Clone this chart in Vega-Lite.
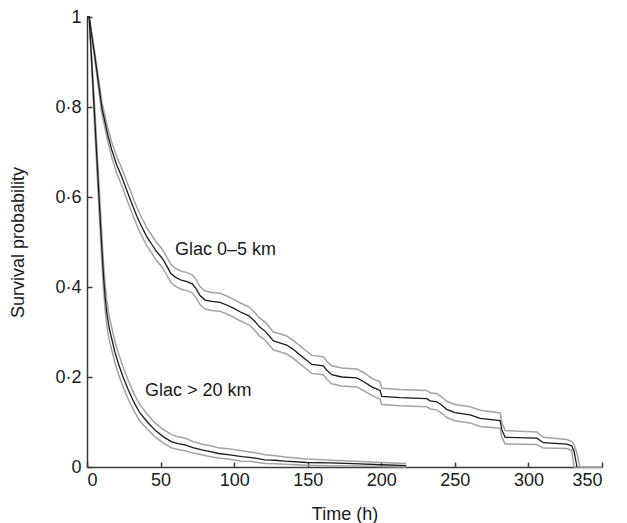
{
  "$schema": "https://vega.github.io/schema/vega-lite/v6.json",
  "width": 515,
  "height": 450,
  "autosize": "none",
  "padding": {"left": 87, "top": 17, "right": 25, "bottom": 56},
  "background": "white",
  "config": {
    "view": {"stroke": null},
    "font": "Liberation Sans",
    "axis": {
      "grid": false,
      "domainColor": "#3a3a3a",
      "domainWidth": 1.5,
      "tickColor": "#3a3a3a",
      "tickWidth": 1.5,
      "tickSize": -5,
      "labelFont": "Liberation Sans",
      "labelFontSize": 18,
      "labelColor": "#1a1a1a",
      "titleFont": "Liberation Sans",
      "titleFontSize": 18,
      "titleFontWeight": "normal",
      "titleColor": "#1a1a1a"
    }
  },
  "datasets": {
    "curves": [
      {"group": "Glac 0–5 km", "t": 0, "est": 1, "lo": 1, "hi": 1},
      {"group": "Glac 0–5 km", "t": 1.5, "est": 1, "lo": 1, "hi": 1},
      {"group": "Glac 0–5 km", "t": 3, "est": 0.965, "lo": 0.96, "hi": 0.97},
      {"group": "Glac 0–5 km", "t": 5, "est": 0.92, "lo": 0.912, "hi": 0.928},
      {"group": "Glac 0–5 km", "t": 7, "est": 0.873, "lo": 0.863, "hi": 0.883},
      {"group": "Glac 0–5 km", "t": 9, "est": 0.825, "lo": 0.813, "hi": 0.837},
      {"group": "Glac 0–5 km", "t": 10, "est": 0.8, "lo": 0.787, "hi": 0.813},
      {"group": "Glac 0–5 km", "t": 12, "est": 0.77, "lo": 0.756, "hi": 0.784},
      {"group": "Glac 0–5 km", "t": 14, "est": 0.74, "lo": 0.725, "hi": 0.755},
      {"group": "Glac 0–5 km", "t": 16.8, "est": 0.705, "lo": 0.688, "hi": 0.722},
      {"group": "Glac 0–5 km", "t": 20, "est": 0.673, "lo": 0.655, "hi": 0.691},
      {"group": "Glac 0–5 km", "t": 23.6, "est": 0.645, "lo": 0.626, "hi": 0.664},
      {"group": "Glac 0–5 km", "t": 27, "est": 0.615, "lo": 0.595, "hi": 0.635},
      {"group": "Glac 0–5 km", "t": 30.4, "est": 0.586, "lo": 0.566, "hi": 0.606},
      {"group": "Glac 0–5 km", "t": 34, "est": 0.556, "lo": 0.536, "hi": 0.576},
      {"group": "Glac 0–5 km", "t": 37, "est": 0.535, "lo": 0.515, "hi": 0.555},
      {"group": "Glac 0–5 km", "t": 40.6, "est": 0.512, "lo": 0.492, "hi": 0.532},
      {"group": "Glac 0–5 km", "t": 44, "est": 0.495, "lo": 0.475, "hi": 0.515},
      {"group": "Glac 0–5 km", "t": 47, "est": 0.48, "lo": 0.46, "hi": 0.5},
      {"group": "Glac 0–5 km", "t": 50.8, "est": 0.465, "lo": 0.445, "hi": 0.485},
      {"group": "Glac 0–5 km", "t": 54, "est": 0.448, "lo": 0.428, "hi": 0.468},
      {"group": "Glac 0–5 km", "t": 57, "est": 0.43, "lo": 0.41, "hi": 0.45},
      {"group": "Glac 0–5 km", "t": 60, "est": 0.422, "lo": 0.402, "hi": 0.442},
      {"group": "Glac 0–5 km", "t": 64, "est": 0.415, "lo": 0.395, "hi": 0.435},
      {"group": "Glac 0–5 km", "t": 68, "est": 0.412, "lo": 0.392, "hi": 0.432},
      {"group": "Glac 0–5 km", "t": 71.5, "est": 0.407, "lo": 0.387, "hi": 0.427},
      {"group": "Glac 0–5 km", "t": 74, "est": 0.397, "lo": 0.377, "hi": 0.417},
      {"group": "Glac 0–5 km", "t": 76.8, "est": 0.381, "lo": 0.361, "hi": 0.401},
      {"group": "Glac 0–5 km", "t": 80.2, "est": 0.371, "lo": 0.351, "hi": 0.391},
      {"group": "Glac 0–5 km", "t": 85, "est": 0.368, "lo": 0.348, "hi": 0.388},
      {"group": "Glac 0–5 km", "t": 90.4, "est": 0.366, "lo": 0.346, "hi": 0.386},
      {"group": "Glac 0–5 km", "t": 95, "est": 0.36, "lo": 0.34, "hi": 0.38},
      {"group": "Glac 0–5 km", "t": 99.5, "est": 0.353, "lo": 0.333, "hi": 0.373},
      {"group": "Glac 0–5 km", "t": 104, "est": 0.345, "lo": 0.325, "hi": 0.365},
      {"group": "Glac 0–5 km", "t": 110, "est": 0.336, "lo": 0.316, "hi": 0.356},
      {"group": "Glac 0–5 km", "t": 114, "est": 0.324, "lo": 0.304, "hi": 0.344},
      {"group": "Glac 0–5 km", "t": 117, "est": 0.312, "lo": 0.292, "hi": 0.332},
      {"group": "Glac 0–5 km", "t": 121, "est": 0.302, "lo": 0.282, "hi": 0.322},
      {"group": "Glac 0–5 km", "t": 126.7, "est": 0.28, "lo": 0.26, "hi": 0.3},
      {"group": "Glac 0–5 km", "t": 131, "est": 0.276, "lo": 0.256, "hi": 0.296},
      {"group": "Glac 0–5 km", "t": 135.7, "est": 0.271, "lo": 0.251, "hi": 0.291},
      {"group": "Glac 0–5 km", "t": 140, "est": 0.262, "lo": 0.242, "hi": 0.282},
      {"group": "Glac 0–5 km", "t": 144.8, "est": 0.249, "lo": 0.229, "hi": 0.269},
      {"group": "Glac 0–5 km", "t": 148.2, "est": 0.24, "lo": 0.22, "hi": 0.26},
      {"group": "Glac 0–5 km", "t": 152.8, "est": 0.228, "lo": 0.208, "hi": 0.248},
      {"group": "Glac 0–5 km", "t": 160.6, "est": 0.225, "lo": 0.205, "hi": 0.245},
      {"group": "Glac 0–5 km", "t": 163, "est": 0.215, "lo": 0.195, "hi": 0.235},
      {"group": "Glac 0–5 km", "t": 166.3, "est": 0.205, "lo": 0.185, "hi": 0.225},
      {"group": "Glac 0–5 km", "t": 173, "est": 0.2, "lo": 0.18, "hi": 0.22},
      {"group": "Glac 0–5 km", "t": 183.3, "est": 0.198, "lo": 0.178, "hi": 0.218},
      {"group": "Glac 0–5 km", "t": 187.9, "est": 0.19, "lo": 0.17, "hi": 0.21},
      {"group": "Glac 0–5 km", "t": 193.5, "est": 0.178, "lo": 0.159, "hi": 0.197},
      {"group": "Glac 0–5 km", "t": 199.2, "est": 0.17, "lo": 0.151, "hi": 0.189},
      {"group": "Glac 0–5 km", "t": 200.3, "est": 0.157, "lo": 0.139, "hi": 0.175},
      {"group": "Glac 0–5 km", "t": 212.8, "est": 0.154, "lo": 0.136, "hi": 0.172},
      {"group": "Glac 0–5 km", "t": 230.9, "est": 0.152, "lo": 0.134, "hi": 0.17},
      {"group": "Glac 0–5 km", "t": 233.2, "est": 0.147, "lo": 0.129, "hi": 0.165},
      {"group": "Glac 0–5 km", "t": 237.7, "est": 0.145, "lo": 0.127, "hi": 0.163},
      {"group": "Glac 0–5 km", "t": 241, "est": 0.138, "lo": 0.12, "hi": 0.156},
      {"group": "Glac 0–5 km", "t": 244.5, "est": 0.128, "lo": 0.11, "hi": 0.146},
      {"group": "Glac 0–5 km", "t": 250, "est": 0.121, "lo": 0.103, "hi": 0.139},
      {"group": "Glac 0–5 km", "t": 260.4, "est": 0.116, "lo": 0.098, "hi": 0.134},
      {"group": "Glac 0–5 km", "t": 267.2, "est": 0.108, "lo": 0.09, "hi": 0.126},
      {"group": "Glac 0–5 km", "t": 280.8, "est": 0.103, "lo": 0.086, "hi": 0.12},
      {"group": "Glac 0–5 km", "t": 281.9, "est": 0.083, "lo": 0.067, "hi": 0.099},
      {"group": "Glac 0–5 km", "t": 284.2, "est": 0.066, "lo": 0.051, "hi": 0.081},
      {"group": "Glac 0–5 km", "t": 305.7, "est": 0.064, "lo": 0.05, "hi": 0.078},
      {"group": "Glac 0–5 km", "t": 310.2, "est": 0.054, "lo": 0.042, "hi": 0.066},
      {"group": "Glac 0–5 km", "t": 326, "est": 0.051, "lo": 0.041, "hi": 0.061},
      {"group": "Glac 0–5 km", "t": 329.4, "est": 0.047, "lo": 0.037, "hi": 0.057},
      {"group": "Glac 0–5 km", "t": 331, "est": 0.035, "lo": 0, "hi": 0.05},
      {"group": "Glac 0–5 km", "t": 333, "est": 0, "lo": 0, "hi": 0.03},
      {"group": "Glac 0–5 km", "t": 335, "est": null, "lo": 0, "hi": 0},
      {"group": "Glac 0–5 km", "t": 350, "est": null, "lo": 0, "hi": 0},
      {"group": "Glac > 20 km", "t": 0, "est": 1, "lo": 1, "hi": 1},
      {"group": "Glac > 20 km", "t": 1.5, "est": 1, "lo": 1, "hi": 1},
      {"group": "Glac > 20 km", "t": 3, "est": 0.91, "lo": 0.9, "hi": 0.92},
      {"group": "Glac > 20 km", "t": 4.5, "est": 0.82, "lo": 0.8, "hi": 0.84},
      {"group": "Glac > 20 km", "t": 6, "est": 0.73, "lo": 0.705, "hi": 0.755},
      {"group": "Glac > 20 km", "t": 7.5, "est": 0.64, "lo": 0.613, "hi": 0.667},
      {"group": "Glac > 20 km", "t": 9, "est": 0.55, "lo": 0.522, "hi": 0.578},
      {"group": "Glac > 20 km", "t": 10.2, "est": 0.48, "lo": 0.451, "hi": 0.509},
      {"group": "Glac > 20 km", "t": 11.3, "est": 0.42, "lo": 0.391, "hi": 0.449},
      {"group": "Glac > 20 km", "t": 12.4, "est": 0.375, "lo": 0.347, "hi": 0.403},
      {"group": "Glac > 20 km", "t": 13.5, "est": 0.342, "lo": 0.315, "hi": 0.369},
      {"group": "Glac > 20 km", "t": 15, "est": 0.31, "lo": 0.284, "hi": 0.336},
      {"group": "Glac > 20 km", "t": 16.8, "est": 0.285, "lo": 0.26, "hi": 0.31},
      {"group": "Glac > 20 km", "t": 19, "est": 0.255, "lo": 0.231, "hi": 0.279},
      {"group": "Glac > 20 km", "t": 21.3, "est": 0.23, "lo": 0.207, "hi": 0.253},
      {"group": "Glac > 20 km", "t": 24.5, "est": 0.2, "lo": 0.178, "hi": 0.222},
      {"group": "Glac > 20 km", "t": 28.1, "est": 0.171, "lo": 0.15, "hi": 0.192},
      {"group": "Glac > 20 km", "t": 32, "est": 0.143, "lo": 0.124, "hi": 0.162},
      {"group": "Glac > 20 km", "t": 36, "est": 0.12, "lo": 0.102, "hi": 0.138},
      {"group": "Glac > 20 km", "t": 41, "est": 0.1, "lo": 0.084, "hi": 0.117},
      {"group": "Glac > 20 km", "t": 46.2, "est": 0.082, "lo": 0.067, "hi": 0.098},
      {"group": "Glac > 20 km", "t": 52, "est": 0.067, "lo": 0.053, "hi": 0.083},
      {"group": "Glac > 20 km", "t": 57.6, "est": 0.056, "lo": 0.042, "hi": 0.072},
      {"group": "Glac > 20 km", "t": 62, "est": 0.052, "lo": 0.039, "hi": 0.067},
      {"group": "Glac > 20 km", "t": 66.6, "est": 0.049, "lo": 0.036, "hi": 0.064},
      {"group": "Glac > 20 km", "t": 72, "est": 0.043, "lo": 0.031, "hi": 0.057},
      {"group": "Glac > 20 km", "t": 78, "est": 0.038, "lo": 0.027, "hi": 0.051},
      {"group": "Glac > 20 km", "t": 84, "est": 0.034, "lo": 0.023, "hi": 0.047},
      {"group": "Glac > 20 km", "t": 89.3, "est": 0.03, "lo": 0.02, "hi": 0.043},
      {"group": "Glac > 20 km", "t": 97, "est": 0.027, "lo": 0.017, "hi": 0.04},
      {"group": "Glac > 20 km", "t": 105.2, "est": 0.023, "lo": 0.013, "hi": 0.036},
      {"group": "Glac > 20 km", "t": 112, "est": 0.021, "lo": 0.012, "hi": 0.033},
      {"group": "Glac > 20 km", "t": 121, "est": 0.016, "lo": 0.008, "hi": 0.027},
      {"group": "Glac > 20 km", "t": 128, "est": 0.015, "lo": 0.007, "hi": 0.025},
      {"group": "Glac > 20 km", "t": 134.6, "est": 0.013, "lo": 0.006, "hi": 0.022},
      {"group": "Glac > 20 km", "t": 149.4, "est": 0.01, "lo": 0.004, "hi": 0.018},
      {"group": "Glac > 20 km", "t": 165, "est": 0.009, "lo": 0.003, "hi": 0.015},
      {"group": "Glac > 20 km", "t": 185.6, "est": 0.007, "lo": 0.002, "hi": 0.012},
      {"group": "Glac > 20 km", "t": 200, "est": 0.005, "lo": 0.001, "hi": 0.01},
      {"group": "Glac > 20 km", "t": 217, "est": 0.003, "lo": 0, "hi": 0.008}
    ],
    "labels": [
      {"text": "Glac 0–5 km", "t": 59.8, "s": 0.471},
      {"text": "Glac > 20 km", "t": 39.4, "s": 0.158}
    ]
  },
  "layer": [
    {
      "data": {"name": "curves"},
      "mark": {"type": "line", "interpolate": "linear", "color": "#a3a3a3", "strokeWidth": 1.5},
      "encoding": {
        "x": {"field": "t", "type": "quantitative", "scale": {"domain": [0, 350], "nice": false},
          "axis": {"values": [0, 50, 100, 150, 200, 250, 300, 350], "title": "Time (h)", "labelPadding": 9, "titleY": 52.5, "titleBaseline": "alphabetic"}},
        "y": {"field": "lo", "type": "quantitative", "scale": {"domain": [0, 1], "nice": false},
          "axis": {"values": [0, 0.2, 0.4, 0.6, 0.8, 1], "format": "~g", "labelExpr": "replace(datum.label, '.', '·')", "title": "Survival probability", "labelPadding": 11, "titleX": -64, "titleY": 225, "titleAngle": -90, "titleAlign": "center", "titleBaseline": "alphabetic"}},
        "detail": {"field": "group"}
      }
    },
    {
      "data": {"name": "curves"},
      "mark": {"type": "line", "interpolate": "linear", "color": "#a3a3a3", "strokeWidth": 1.5},
      "encoding": {
        "x": {"field": "t", "type": "quantitative"},
        "y": {"field": "hi", "type": "quantitative"},
        "detail": {"field": "group"}
      }
    },
    {
      "data": {"name": "curves"},
      "mark": {"type": "line", "interpolate": "linear", "color": "#1a1a1a", "strokeWidth": 1.3},
      "encoding": {
        "x": {"field": "t", "type": "quantitative"},
        "y": {"field": "est", "type": "quantitative"},
        "detail": {"field": "group"}
      }
    },
    {
      "data": {"name": "labels"},
      "mark": {"type": "text", "align": "left", "baseline": "alphabetic", "fontSize": 18, "font": "Liberation Sans", "color": "#1a1a1a"},
      "encoding": {
        "x": {"field": "t", "type": "quantitative"},
        "y": {"field": "s", "type": "quantitative"},
        "text": {"field": "text"}
      }
    }
  ]
}
